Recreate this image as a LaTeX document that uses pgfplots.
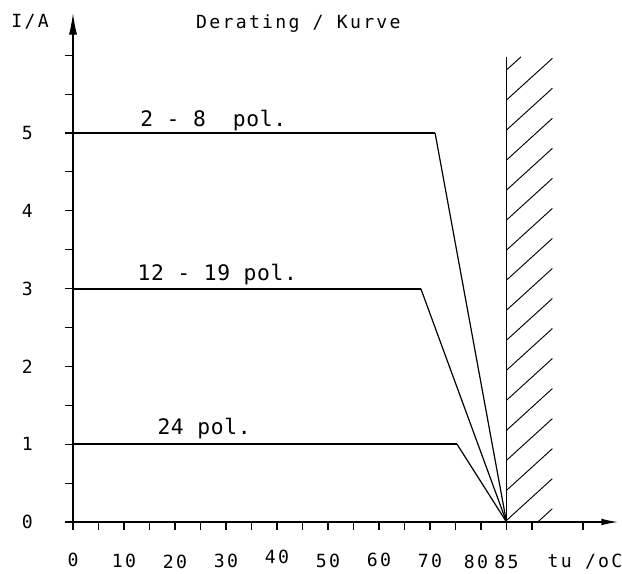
\documentclass[border=0pt]{standalone}
\usepackage{fontspec}
\setmainfont{DejaVu Sans Mono}[LetterSpace=12.6]
\newfontfamily\pfbfam{DejaVu Sans Mono}[LetterSpace=3]
\usepackage{pgfplots}
\pgfplotsset{compat=1.18}
\usetikzlibrary{arrows.meta}
\newcommand{\pf}{\fontsize{13.6}{16}\selectfont}
\newcommand{\pfb}{\pfbfam\fontsize{16}{19}\selectfont}
\newcommand{\rb}[2]{\raisebox{#1pt}{#2}}
\begin{document}
\begin{tikzpicture}
\begin{axis}[
  scale only axis, width=409.3pt, height=381.6pt,
  xmin=0, xmax=107, ymin=0, ymax=6.54,
  axis lines=left, clip=false,
  x axis line style={line width=1.3pt, -{Latex[length=13pt,width=5pt]}},
  y axis line style={line width=0.8pt, -{Latex[length=16pt,width=6pt]}},
  tick align=outside, major tick length=6pt,
  tick style={line width=0.8pt, black},
  xtick={0,5,...,90,100},
  xticklabels={0,{},\rb{-0.5}{10},{},\rb{-1.5}{20},{},\rb{-0.5}{30},{},\rb{2}{40},{},\rb{-0.5}{50},{},60,{},\rb{-0.5}{70},{},\rb{-1.5}{80\kern7.5pt},\rb{-1.5}{85},{},{}},
  ytick={0,0.5,...,6},
  yticklabels={0,{},1,{},2,{},3,{},4,{},5,{},{},{}},
  /pgf/number format/assume math mode=true,
  every tick label/.append style={font=\pf},
  xticklabel style={anchor=base, yshift=-27.5pt},
  yticklabel style={anchor=center, xshift=-28.25pt},
]
% hatch region
\addplot[black, line width=0.7pt] coordinates {(85,0)(85,5.98)};
\addplot[black, line width=0.7pt, unbounded coords=jump] coordinates {
 (85,5.81)(87.85,5.98) (nan,nan)
 (85,5.424)(94,5.96) (nan,nan)
 (85,5.038)(94,5.575) (nan,nan)
 (85,4.652)(94,5.189) (nan,nan)
 (85,4.266)(94,4.803) (nan,nan)
 (85,3.880)(94,4.417) (nan,nan)
 (85,3.494)(94,4.031) (nan,nan)
 (85,3.108)(94,3.645) (nan,nan)
 (85,2.722)(94,3.259) (nan,nan)
 (85,2.336)(94,2.873) (nan,nan)
 (85,1.950)(94,2.487) (nan,nan)
 (85,1.564)(94,2.101) (nan,nan)
 (85,1.178)(94,1.715) (nan,nan)
 (85,0.792)(94,1.329) (nan,nan)
 (85,0.406)(94,0.943) (nan,nan)
 (85,0.020)(94,0.557) (nan,nan)
 (91.13,0)(94,0.171)
};
% derating curves
\addplot[black, line width=1.5pt] coordinates {(0,5)(71,5)};
\addplot[black, line width=0.9pt] coordinates {(71,5)(85,0)};
\addplot[black, line width=1.5pt] coordinates {(0,3)(68.2,3)};
\addplot[black, line width=0.9pt] coordinates {(68.2,3)(85,0)};
\addplot[black, line width=1.5pt] coordinates {(0,1)(75.3,1)};
\addplot[black, line width=0.9pt] coordinates {(75.3,1)(85,0)};
% texts
\node[anchor=base, font=\pfb, inner sep=0pt] at (axis cs:27.5,5.08) {2 - 8\ \ pol.};
\node[anchor=base, font=\pfb, inner sep=0pt] at (axis cs:28.3,3.11) {12 - 19 pol.};
\node[anchor=base, font=\pfb, inner sep=0pt] at (axis cs:25.7,1.12) {24 pol.};
\node[anchor=base, font=\pf, inner sep=0pt] at (axis cs:44.2,6.346) {Derating / Kurve};
\node[anchor=base, font=\pf, inner sep=0pt] at (axis cs:-8.4,6.35) {I/A};
\node[anchor=base, font=\pf, inner sep=0pt] at (axis cs:100.4,-0.591) {tu /oC};
\coordinate (bbsw) at (axis cs:-14.31,-0.668);
\coordinate (bbne) at (axis cs:107.65,6.71);
\end{axis}
\pgfresetboundingbox
\path[use as bounding box] (bbsw) rectangle (bbne);
\end{tikzpicture}
\end{document}
